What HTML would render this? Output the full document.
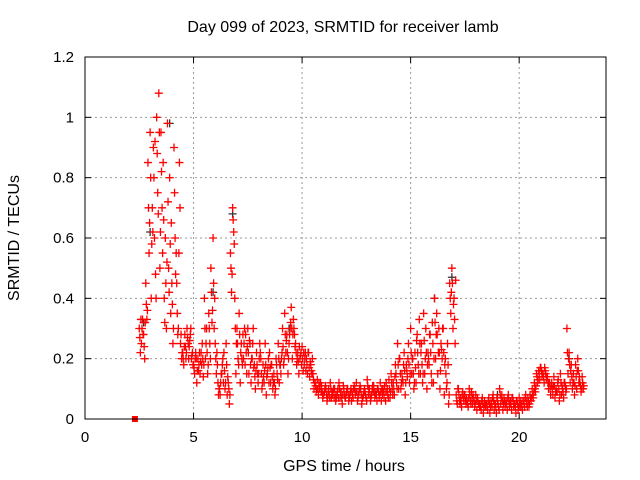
<!DOCTYPE html>
<html><head><meta charset="utf-8"><style>
body{margin:0;background:#fff}
svg{display:block;font-family:"Liberation Sans",sans-serif}
</style></head><body>
<svg id="c" width="640" height="480">
<text x="343" y="32" text-anchor="middle" font-size="16">Day 099 of 2023, SRMTID for receiver lamb</text>
<text x="344" y="471" text-anchor="middle" font-size="16">GPS time / hours</text>
<text transform="translate(19,238) rotate(-90)" text-anchor="middle" font-size="16">SRMTID / TECUs</text>
<g id="grid"></g><g id="marks"></g>
<rect x="85" y="57" width="521" height="362" fill="none" stroke="#000" stroke-width="1"/>
</svg>
<script>
const xTicks=[0,5,10,15,20];
const yTicks=[0,0.2,0.4,0.6,0.8,1.0,1.2];
const yTickLabels=["0","0.2","0.4","0.6","0.8","1","1.2"];
const tStart=2.5, tStep=0.1;
const seriesA=[.30,.25,.28,.45,.85,.95,.70,.60,1.0,1.08,
.95,.85,.60,.98,.80,.45,.90,.55,.30,.25,
.22,.28,.30,.24,.20,.18,.22,.20,.15,.25,
.40,.30,.35,.50,.60,.25,.18,.10,.15,.22,
.25,.12,.55,.70,.40,.30,.35,.25,.20,.28,
.30,.25,.20,.18,.22,.15,.20,.18,.25,.15,
.22,.18,.15,.20,.25,.18,.30,.35,.28,.25,
.37,.33,.25,.22,.20,.24,.18,.20,.22,.18,
.15,.12,.13,.10,.11,.08,.10,.09,.12,.08,
.10,.08,.12,.09,.11,.07,.10,.08,.09,.11,
.12,.08,.10,.07,.09,.13,.10,.08,.11,.09,
.10,.12,.08,.11,.09,.13,.15,.12,.18,.25,
.20,.15,.22,.18,.25,.30,.20,.22,.28,.33,
.25,.35,.30,.22,.28,.32,.40,.35,.30,.25,
.30,.20,.25,.45,.50,.40,.08,.10,.07,.09,
.08,.06,.10,.09,.07,.08,.06,.05,.07,.06,
.05,.07,.06,.08,.05,.06,.10,.08,.07,.06,
.08,.06,.07,.05,.06,.07,.05,.06,.08,.07,
.08,.10,.12,.15,.16,.17,.15,.16,.14,.12,
.12,.14,.10,.13,.15,.10,.12,.30,.22,.18,
.15,.18,.20,.12,.14];
const seriesB=[.22,.33,.20,.33,.55,.40,.90,.48,.75,.50,
.70,.40,.30,.50,.35,.25,.60,.35,.85,.20,
.18,.20,.25,.28,.22,.15,.12,.18,.22,.14,
.20,.15,.25,.32,.30,.15,.08,.12,.20,.10,
.08,.05,.42,.62,.15,.20,.12,.18,.30,.15,
.15,.12,.30,.10,.15,.25,.10,.12,.08,.20,
.12,.10,.08,.15,.12,.20,.18,.22,.15,.30,
.20,.28,.18,.15,.22,.16,.22,.15,.14,.15,
.10,.09,.08,.12,.07,.10,.06,.08,.07,.10,
.06,.10,.07,.05,.08,.09,.06,.10,.07,.08,
.06,.10,.05,.09,.07,.08,.06,.11,.07,.06,
.07,.06,.09,.06,.08,.07,.10,.08,.12,.10,
.10,.12,.08,.14,.12,.15,.10,.12,.18,.15,
.12,.15,.10,.18,.15,.12,.20,.15,.10,.20,
.08,.10,.05,.35,.30,.25,.05,.06,.04,.06,
.05,.04,.06,.05,.04,.03,.05,.03,.02,.04,
.03,.02,.04,.03,.02,.04,.05,.03,.04,.03,
.04,.03,.04,.02,.03,.04,.03,.04,.05,.04,
.06,.07,.09,.12,.13,.14,.12,.13,.10,.08,
.08,.07,.09,.06,.08,.07,.09,.15,.12,.10,
.08,.10,.12,.09,.10];
const seriesC=[.27,.30,.24,.38,.70,.80,.62,.92,.88,.95,
.82,.66,.45,.72,.58,.38,.75,.45,.55,.28,
.20,.24,.27,.26,.21,.17,.20,.16,.19,.20,
.30,.22,.30,.42,.45,.20,.12,.08,.18,.16,
.18,.10,.50,.66,.30,.25,.28,.20,.25,.22,
.22,.18,.25,.14,.18,.20,.15,.14,.18,.17,
.17,.14,.12,.18,.20,.15,.24,.28,.22,.28,
.30,.30,.22,.19,.21,.20,.20,.18,.17,.16,
.13,.11,.10,.11,.09,.09,.08,.10,.10,.09,
.08,.09,.10,.07,.10,.08,.08,.09,.08,.10,
.09,.09,.08,.08,.08,.11,.08,.10,.09,.08,
.09,.09,.10,.09,.10,.10,.12,.10,.15,.18,
.15,.13,.16,.16,.18,.22,.15,.17,.22,.25,
.18,.26,.22,.20,.22,.25,.32,.28,.22,.23,
.22,.15,.18,.40,.45,.33,.06,.08,.06,.07,
.06,.05,.08,.07,.06,.06,.05,.04,.05,.05,
.04,.05,.05,.06,.04,.05,.08,.06,.06,.05,
.06,.05,.06,.04,.05,.05,.04,.05,.06,.06,
.07,.08,.10,.14,.15,.16,.14,.15,.12,.10,
.10,.11,.09,.10,.12,.09,.11,.22,.18,.14,
.12,.14,.16,.11,.12];
const seriesD=[.33,.28,.32,.36,.65,.58,.80,.40,.68,.62,
.55,.32,.52,.42,.65,.30,.48,.28,.70,.22,
.24,.22,.20,.30,.18,.20,.16,.22,.18,.18,
.25,.18,.20,.36,.40,.22,.10,.15,.12,.12,
.14,.08,.48,.58,.25,.18,.22,.28,.18,.24,
.26,.20,.17,.16,.12,.22,.12,.16,.14,.12,
.18,.12,.10,.13,.18,.22,.20,.26,.20,.32,
.28,.24,.20,.24,.18,.22,.16,.22,.19,.20,
.12,.10,.12,.09,.08,.11,.07,.07,.09,.07,
.07,.07,.09,.08,.07,.10,.07,.06,.10,.09,
.07,.11,.07,.10,.06,.10,.07,.09,.08,.10,
.08,.10,.07,.12,.07,.09,.08,.14,.10,.20,
.12,.18,.12,.20,.15,.20,.12,.26,.15,.22,
.15,.20,.18,.28,.12,.20,.28,.22,.16,.30,
.18,.12,.08,.42,.38,.46,.10,.05,.08,.08,
.07,.07,.05,.08,.05,.07,.04,.06,.04,.05,
.06,.04,.07,.05,.07,.03,.07,.05,.05,.07,
.05,.07,.05,.06,.04,.06,.06,.07,.04,.05,
.07,.09,.11,.13,.17,.15,.17,.14,.12,.11,
.11,.09,.12,.08,.11,.12,.10,.20,.16,.12,
.11,.16,.14,.10,.11];
const grayT=[2.7,3.0,3.9,5.9,6.8,9.4,16.1,16.9,19.0,22.3];
const grayV=[0.32,0.62,0.98,0.42,0.68,0.30,0.40,0.47,0.08,0.20];
const squareT=[2.3], squareV=[0];
const X=t=>85+t*(521/24), Y=v=>419-v*(362/1.2);
const NS='http://www.w3.org/2000/svg';
const g=document.getElementById('grid'), m=document.getElementById('marks');
function mk(tag,at,p){const e=document.createElementNS(NS,tag);for(const k in at)e.setAttribute(k,at[k]);p.appendChild(e);return e;}
xTicks.forEach(t=>{const x=X(t);
 if(t>0){const l=mk('line',{x1:x,y1:57,x2:x,y2:419,stroke:'#999','stroke-dasharray':'2,3'},g);
 
 }
 mk('line',{x1:x,y1:419,x2:x,y2:413,stroke:'#000'},g);mk('line',{x1:x,y1:57,x2:x,y2:63,stroke:'#000'},g);
 const tx=mk('text',{x:x,y:442,'text-anchor':'middle','font-size':15},g);tx.textContent=t;
 
 });
yTicks.forEach((v,i)=>{const y=Y(v);
 if(v>0&&v<1.2){const l=mk('line',{x1:85,y1:y,x2:606,y2:y,stroke:'#999','stroke-dasharray':'2,3'},g);
 
 }
 mk('line',{x1:85,y1:y,x2:91,y2:y,stroke:'#000'},g);mk('line',{x1:606,y1:y,x2:600,y2:y,stroke:'#000'},g);
 const tx=mk('text',{x:74,y:y+5,'text-anchor':'end','font-size':15},g);tx.textContent=yTickLabels[i];
 
 });
function plus(t,v,c){const x=X(t),y=Y(v);const p=mk('path',{d:`M${x-4},${y}H${x+4}M${x},${y-4}V${y+4}`,stroke:c,'stroke-width':1.3,fill:'none'},m);
 
 }
grayT.forEach((t,i)=>plus(t,grayV[i],'#333'));
seriesA.forEach((v,i)=>plus(tStart+i*tStep,v,'#f00'));
seriesB.forEach((v,i)=>plus(tStart+i*tStep+0.05,v,'#f00'));
seriesC.forEach((v,i)=>plus(tStart+i*tStep+0.025,v,'#f00'));
seriesD.forEach((v,i)=>plus(tStart+i*tStep+0.075,v,'#f00'));
squareT.forEach((t,i)=>{const r=mk('rect',{x:X(t)-3,y:Y(squareV[i])-3,width:6,height:6,fill:'#f00'},m);
 
 });
</script>
</body></html>
